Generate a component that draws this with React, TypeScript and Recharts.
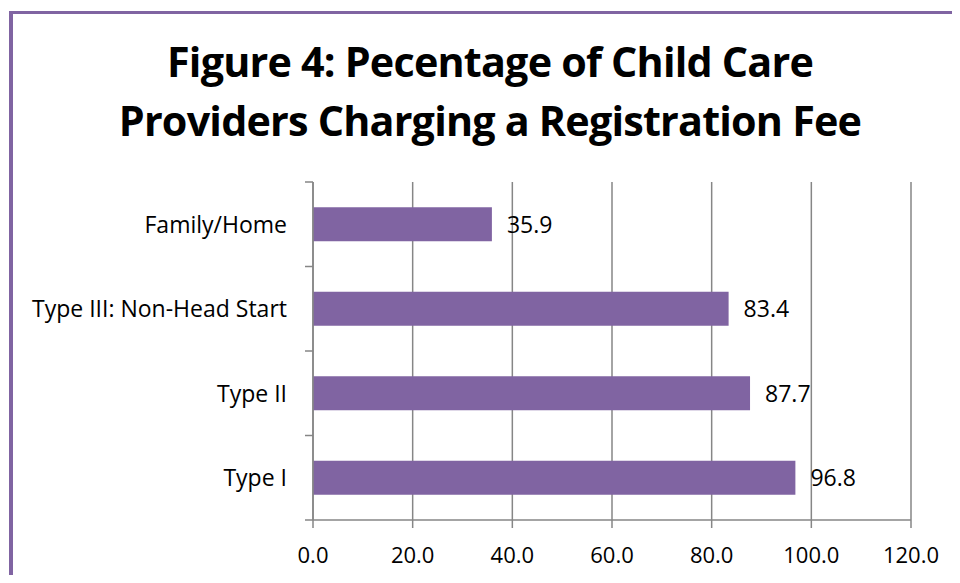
import { BarChart, Bar, XAxis, YAxis, CartesianGrid, LabelList } from "recharts";

// top-to-bottom order as shown in the figure
const providerTypes = ["Family/Home", "Type III: Non-Head Start", "Type II", "Type I"];
const pctChargingFee = [35.9, 83.4, 87.7, 96.8];
const xTicks = [0, 20, 40, 60, 80, 100, 120];

const data = providerTypes.map((name, i) => ({ name, value: pctChargingFee[i] }));

const PURPLE = "#8064A2";
const GRID = "#868686";
const FONT = "'Open Sans', 'Noto Sans', sans-serif";
const Y_TICK_SIZE = 8;
const Y_TICK_MARGIN = 18;

function CategoryTick(props: any) {
  const { x, y, payload, index } = props;
  const axisX = x + Y_TICK_SIZE + Y_TICK_MARGIN;
  const half = payload && payload.offset ? payload.offset : 42.25;
  return (
    <g>
      <line x1={axisX - Y_TICK_SIZE} x2={axisX} y1={y - half} y2={y - half} stroke={GRID} strokeWidth={1.5} />
      {index === providerTypes.length - 1 && (
        <line x1={axisX - Y_TICK_SIZE} x2={axisX} y1={y + half} y2={y + half} stroke={GRID} strokeWidth={1.5} />
      )}
      <text x={x} y={y} dy="0.36em" textAnchor="end" fontSize={23} fontFamily={FONT} fill="#000">
        {payload.value}
      </text>
    </g>
  );
}

export default function App() {
  return (
    <div style={{ position: "relative", margin: -8, width: 960, height: 583, overflow: "hidden", background: "#fff" }}>
      <div
        style={{
          position: "absolute",
          left: 9,
          top: 11,
          width: 1000,
          height: 700,
          borderLeft: `4px solid ${PURPLE}`,
          borderTop: `3px solid ${PURPLE}`,
        }}
      />
      <svg width={960} height={170} style={{ position: "absolute", left: 0, top: 0 }}>
        <text x={490} y={77} textAnchor="middle" fontSize={41.3} fontWeight="bold" fontFamily={FONT} letterSpacing={-0.8} fill="#000">
          Figure 4: Pecentage of Child Care
        </text>
        <text x={490} y={136} textAnchor="middle" fontSize={41.3} fontWeight="bold" fontFamily={FONT} letterSpacing={-0.8} fill="#000">
          Providers Charging a Registration Fee
        </text>
      </svg>
      <div style={{ position: "absolute", left: 0, top: 0 }}>
        <BarChart
          width={960}
          height={583}
          data={data}
          layout="vertical"
          barCategoryGap="30%"
          margin={{ top: 182, right: 49, bottom: 13, left: 13 }}
        >
          <CartesianGrid horizontal={false} vertical={true} stroke={GRID} strokeWidth={1.5} />
          <XAxis
            type="number"
            domain={[0, 120]}
            ticks={xTicks}
            interval={0}
            height={50}
            tickFormatter={(v: number) => v.toFixed(1)}
            tickSize={8}
            tickMargin={19}
            axisLine={{ stroke: GRID, strokeWidth: 1.5 }}
            tickLine={{ stroke: GRID, strokeWidth: 1.5 }}
            tick={{ fontSize: 22, fontFamily: FONT, fill: "#000" }}
          />
          <YAxis
            type="category"
            dataKey="name"
            width={300}
            tickSize={Y_TICK_SIZE}
            tickMargin={Y_TICK_MARGIN}
            tickLine={false}
            axisLine={{ stroke: GRID, strokeWidth: 1.5 }}
            tick={<CategoryTick />}
            interval={0}
          />
          <Bar dataKey="value" fill={PURPLE} isAnimationActive={false}>
            <LabelList
              dataKey="value"
              position="right"
              offset={15}
              formatter={(v: number) => v.toFixed(1)}
              style={{ fontSize: 23, fontFamily: FONT, fill: "#000" }}
            />
          </Bar>
        </BarChart>
      </div>
    </div>
  );
}
